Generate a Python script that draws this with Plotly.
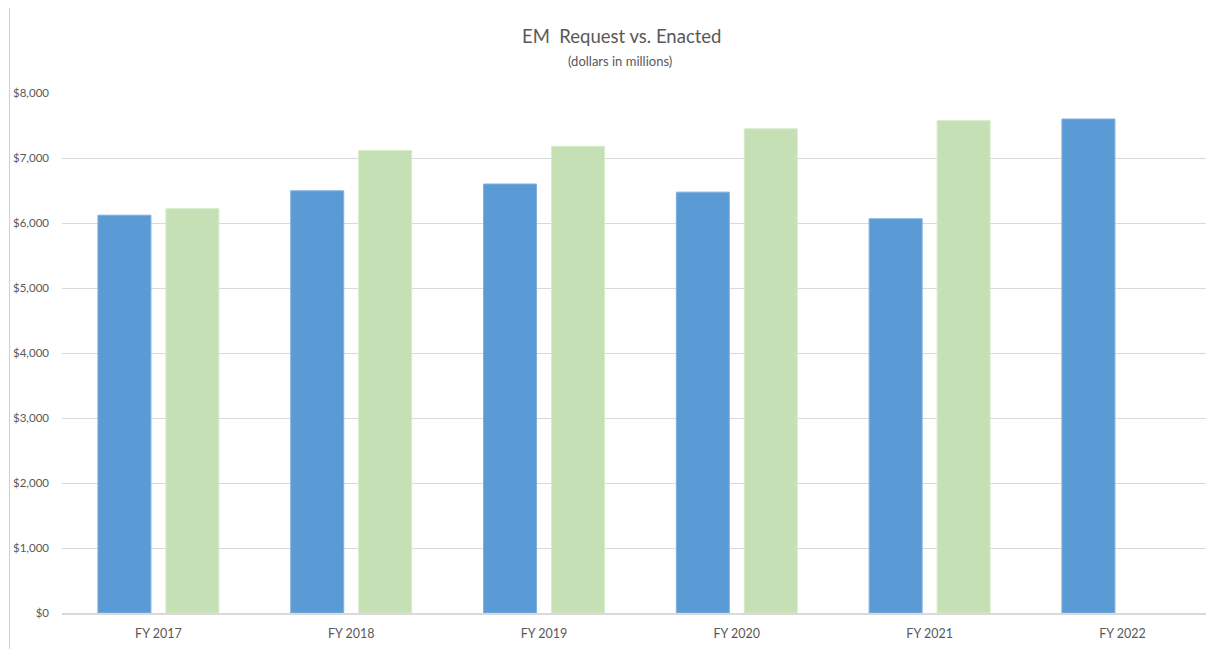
import plotly.graph_objects as go

categories = ["FY 2017", "FY 2018", "FY 2019", "FY 2020", "FY 2021", "FY 2022"]
request = [6120, 6495, 6600, 6475, 6065, 7600]
enacted = [6220, 7115, 7180, 7450, 7575, None]
y_ticks = [0, 1000, 2000, 3000, 4000, 5000, 6000, 7000, 8000]
y_tick_labels = ["$0", "$1,000", "$2,000", "$3,000", "$4,000", "$5,000", "$6,000", "$7,000", "$8,000"]

FONT = "Lato, sans-serif"
GRAY = "#595959"

fig = go.Figure()
fig.add_trace(go.Bar(x=categories, y=request, name="Request",
                     marker=dict(color="#5B9BD5", line=dict(color="#7fb0de", width=1))))
fig.add_trace(go.Bar(x=categories, y=enacted, name="Enacted",
                     marker=dict(color="#C5E0B4", line=dict(color="#d8ebcc", width=1))))

PW, PH = 1152, 520
fig.update_layout(
    width=1206, height=641,
    barmode="group", bargap=0.295, bargroupgap=0.22,
    showlegend=False,
    plot_bgcolor="white", paper_bgcolor="white",
    margin=dict(l=54, r=0, t=85, b=36),
    font=dict(family=FONT, color=GRAY, size=12),
    xaxis=dict(range=[-0.5, 5.475], showgrid=False, showline=True, linecolor="#d9d9d9",
               linewidth=1.5, ticks="", ticklabelstandoff=8,
               tickfont=dict(size=12.5, color=GRAY, family=FONT)),
    yaxis=dict(range=[0, 8000], tickvals=y_ticks, ticktext=y_tick_labels,
               showgrid=True, gridcolor="#d9d9d9", gridwidth=1, zeroline=False,
               showline=False, ticks="", ticklabelstandoff=12,
               tickfont=dict(size=11.5, color=GRAY, family=FONT)),
    annotations=[
        dict(text="EM  Request vs. Enacted", xref="paper", yref="paper",
             x=(621 - 62) / PW, y=1.0, yanchor="middle", yshift=57, showarrow=False,
             font=dict(size=18.5, color=GRAY, family=FONT)),
        dict(text="(dollars in millions)", xref="paper", yref="paper",
             x=(620 - 62) / PW, y=1.0, yanchor="middle", yshift=32, showarrow=False,
             font=dict(size=13, color=GRAY, family=FONT)),
    ],
    shapes=[
        dict(type="line", xref="paper", yref="paper",
             x0=-52.5 / PW, x1=-52.5 / PW, y0=-40 / PH, y1=1 + 87.5 / PH,
             line=dict(color="#d0d0d0", width=1)),
        dict(type="line", xref="paper", yref="paper",
             x0=-52.5 / PW, x1=1.01, y0=1 + 87.5 / PH, y1=1 + 87.5 / PH,
             line=dict(color="#d0d0d0", width=1)),
    ],
)

fig.write_html("out.html")
